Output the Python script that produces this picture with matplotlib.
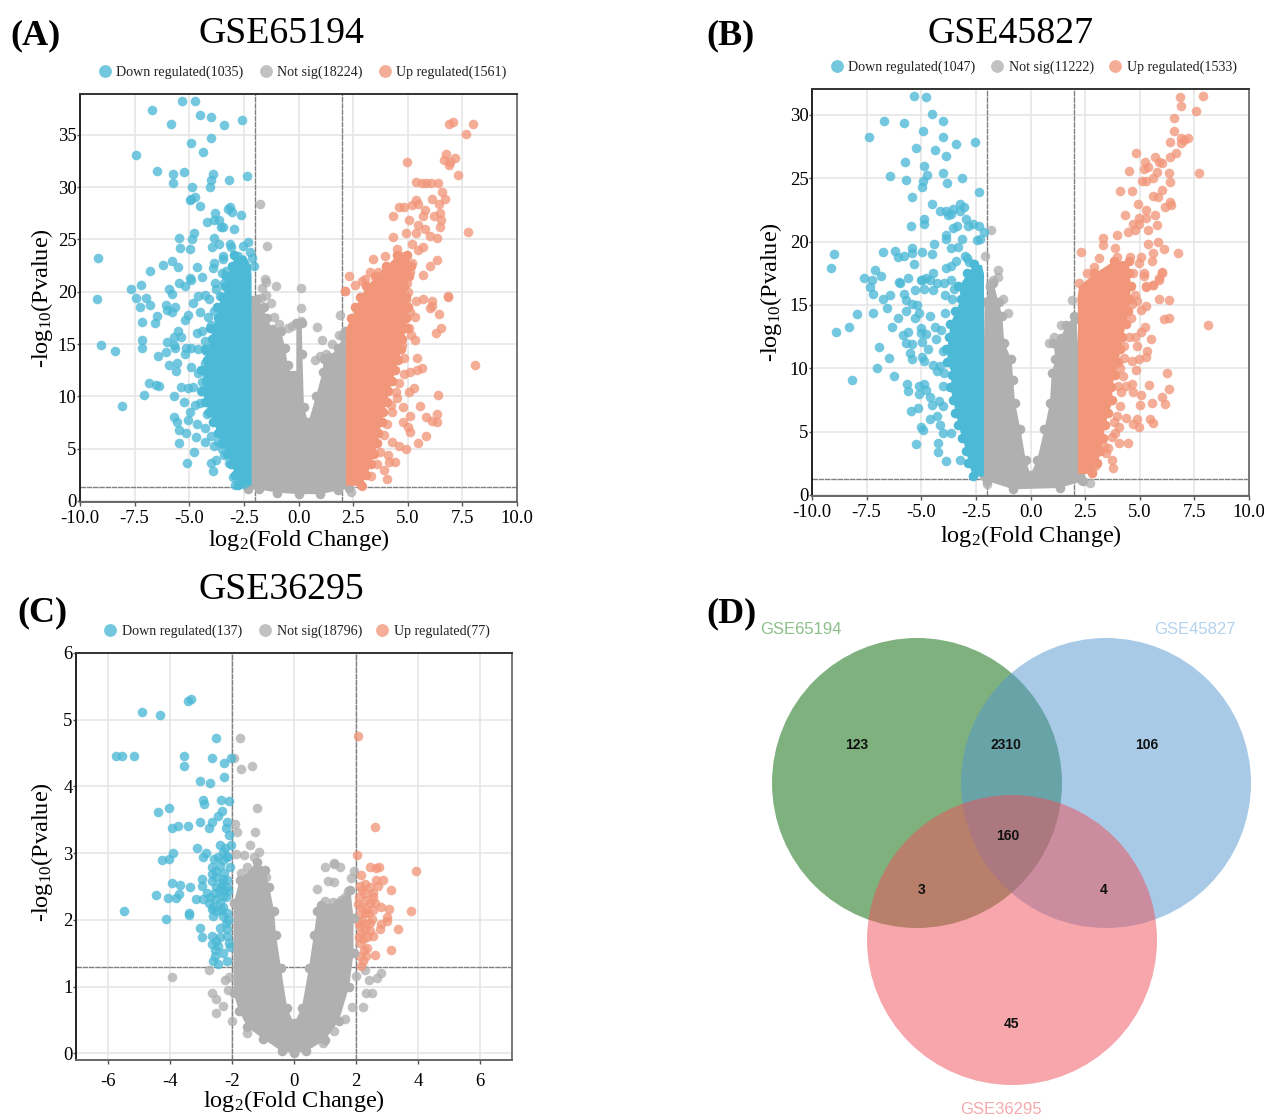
import numpy as np
import matplotlib
matplotlib.use("Agg")
import matplotlib.pyplot as plt
from matplotlib.patches import Circle

plt.rcParams['font.family'] = ['Liberation Serif', 'DejaVu Serif']
plt.rcParams['mathtext.default'] = 'regular'

BLUE = '#4cb9d6'
GREY = '#b0b0b0'
RED = '#f2967a'

# panel A, GSE65194
a_down = [(-6.72,37.4),(-5.32,38.2),(-4.75,38.2),(-4.52,36.9),(-4.01,36.7),(-5.82,36.0),(-3.41,35.9),(-2.58,36.4),
    (-3.99,34.7),(-4.91,34.2),(-4.39,33.4),(-7.43,33.1),(-6.47,31.5),(-5.74,31.3),(-5.25,31.4),(-3.90,31.3),
    (-5.75,30.4),(-3.99,30.7),(-3.19,30.7),(-2.36,31.1),(-4.88,30.0),(-4.06,30.0),(-4.98,28.8),(-4.74,29.1),
    (-4.9,28.9),(-4.53,28.2),(-3.23,27.9),(-3.12,28.1),(-3.03,27.6),(-2.63,27.3),(-3.82,27.5),(-4.2,26.7),
    (-3.87,26.9),(-3.63,26.9),(-3.55,26.2),(-3.47,26.2),(-2.93,26.0),(-4.79,25.6),(-5.45,25.1),(-4.87,25.0),
    (-5.42,24.2),(-4.98,24.1),(-3.87,25.1),(-3.63,24.6),(-3.95,24.3),(-3.12,24.6),(-3.07,24.3),(-2.3,24.8),
    (-2.55,24.4),(-2.2,23.8),(-2.12,23.2),(-2.03,22.5),(-9.18,23.2),(-3.44,23.4),(-3.47,23.1),(-2.76,23.4),
    (-6.2,22.6),(-5.77,22.9),(-5.53,22.4),(-4.63,22.4),(-3.87,22.7),(-3.91,22.3),(-6.8,22.0),(-7.67,20.3),
    (-7.23,20.6),(-4.98,21.3),(-4.42,21.4),(-5.45,20.8),(-5.21,20.5),(-4.9,21.1),(-5.93,20.3),(-5.8,19.8),
    (-9.21,19.3),(-3.82,20.8),(-3.79,20.3),(-3.39,20.8),(-7.43,19.4),(-6.99,19.4),(-7.27,18.5),(-6.8,18.7),
    (-6.07,18.7),(-6.0,18.3),(-5.77,18.1),(-5.66,18.5),(-6.48,17.7),(-7.15,17.1),(-6.59,17.0),(-5.06,17.8),
    (-5.21,17.3),(-4.82,18.9),(-4.58,19.6),(-4.26,19.7),(-4.5,18.1),(-4.1,19.3),(-9.05,14.9),(-8.38,14.3),
    (-8.1,9.07),(-7.15,15.4),(-7.16,14.6),(-6.45,13.9),(-6.05,14.2),(-6.0,15.2),(-5.69,15.7),(-5.53,16.2),
    (-5.37,15.7),(-5.69,14.9),(-5.66,14.6),(-4.66,16.1),(-4.42,16.2),(-4.26,15.3),(-5.13,14.6),(-5.21,14.0),
    (-4.9,14.6),(-4.58,14.5),(-5.93,13.0),(-5.58,13.2),(-5.61,12.4),(-4.9,12.8),(-4.58,12.2),(-4.18,11.9),
    (-4.26,13.2),(-6.83,11.3),(-6.51,11.1),(-6.4,11.0),(-7.07,10.1),(-5.69,10.0),(-5.4,10.9),(-5.06,10.8),
    (-4.82,10.9),(-5.26,9.5),(-4.98,8.5),(-4.74,9.2),(-5.69,8.0),(-5.56,7.5),(-5.06,7.7),(-4.66,7.4),
    (-5.45,6.8),(-5.13,6.5),(-4.71,6.1),(-5.45,5.5),(-4.77,4.7),(-5.1,3.65),(-4.26,5.6),(-3.87,5.3),
    (-3.99,3.6),(-3.76,3.9),(-3.91,2.9),(-3.39,4.4),(-3.0,2.3),(-2.92,1.5),(-2.49,1.6),(-4.2,8.3),(-4.3,7.0),
    (-4.0,6.2),(-3.7,5.6),(-3.5,5.0),(-3.2,3.6),(-4.45,10.5),(-4.5,9.4),(-4.4,11.4),(-4.25,14.3),(-4.0,16.8),
    (-4.15,17.6),(-3.85,18.2),(-3.6,19.6),(-3.5,18.4),(-3.3,22.0),(-3.5,21.8)]
a_up = [(6.91,36.0),(7.08,36.2),(7.99,36.0),(7.65,35.1),(4.96,32.4),(6.74,33.2),(7.15,32.8),(6.67,32.6),(6.94,32.4),
    (6.91,32.1),(7.29,31.2),(5.4,30.5),(5.64,30.4),(5.85,30.4),(6.07,30.4),(6.4,30.4),(6.56,29.5),(6.72,28.9),
    (6.09,28.9),(6.43,28.4),(5.4,28.8),(5.21,28.3),(5.48,28.4),(4.61,28.1),(4.85,28.1),(5.8,27.8),(5.69,27.2),
    (4.31,27.2),(5.06,26.9),(5.48,26.4),(6.2,27.2),(6.48,27.5),(6.51,26.9),(6.48,26.2),(7.75,25.7),(5.8,26.0),
    (4.93,25.6),(5.4,25.6),(4.34,25.2),(6.04,25.3),(6.35,25.1),(5.21,24.6),(4.5,24.1),(5.72,24.3),(5.48,24.0),
    (3.42,23.1),(3.98,23.4),(6.35,23.0),(6.04,22.5),(4.69,23.4),(2.3,21.5),(3.26,21.9),(3.66,21.9),(3.03,21.2),
    (5.72,21.6),(2.15,20.1),(6.83,19.6),(6.83,19.5),(2.12,20.1),(6.12,19.1),(5.69,19.3),(5.4,19.1),(6.12,18.6),
    (6.0,18.4),(6.45,17.9),(5.32,17.6),(5.09,18.1),(6.51,16.5),(6.28,16.1),(5.32,15.4),(5.06,16.5),(5.17,15.9),
    (5.44,13.7),(5.64,12.7),(5.44,12.5),(5.12,12.3),(4.85,12.1),(8.07,13.0),(5.29,10.8),(5.06,10.4),(4.45,10.4),
    (4.53,9.8),(6.39,10.1),(5.56,9.1),(4.8,9.0),(5.09,8.1),(4.22,9.2),(6.35,8.3),(5.85,8.0),(6.12,7.6),(6.32,7.5),
    (4.77,7.5),(5.0,7.1),(5.09,6.6),(4.06,7.4),(5.83,6.2),(5.45,5.5),(4.61,5.3),(4.9,5.0),(4.29,5.6),(3.74,4.7),
    (4.1,4.4),(4.42,3.7),(4.14,3.7),(3.9,3.0),(4.06,2.1),(4.95,20.8),(5.1,21.9),(5.2,22.7),(5.0,20.0),(4.9,19.2),
    (2.6,20.6),(2.9,21.0),(4.75,14.9),(4.85,13.7),(4.6,11.3),(4.3,8.5),(3.9,6.3),(3.6,3.5),(3.3,2.4),(2.9,1.4)]
a_notsig = [(-1.73,19.4),(-1.25,18.9),(-0.9,16.9),(-0.46,16.5),(-0.3,16.7),(0.13,18.4),(0.13,17.2),(0.86,16.6),(1.08,15.4),
    (1.92,17.8),(-1.01,20.5),(0.1,20.4),(-1.65,20.4),(-1.5,20.9),(-1.74,28.4),(-1.43,24.4),(-1.52,21.2),(0.75,13.5),
    (1.0,13.9),(1.25,14.0),(-1.5,19.7),(-1.1,17.6),(2.4,0.9),(1.85,15.9),(1.55,15.0)]
a_grey_x = [-2.3,-2.2,-2.2,-2.2,-2.15,-1.9,-1.6,-1.45,-1.2,-0.8,-0.6,-0.5,-0.3,-0.1,-0.1,0.15,0.18,0.25,0.45,0.8,1.1,
    1.15,1.4,1.8,2.05,2.15,2.25,2.25,2.3,1.8,1.0,0.0,-1.0,-1.8]
a_grey_y = [1.1,3,10,17,19.2,19.3,18.5,17.5,16.4,16.2,14.6,13,12,12,17,17,14,9,7.5,10,12.3,13.6,13.8,14.6,15.8,16.2,
    10,3,1.2,1.0,0.65,0.65,0.8,1.1]
a_blue_y = [1.5,2.5,3.5,4.5,5.5,6.5,7.5,8.5,9.5,10.5,11.5,12.5,13.5,14.5,15.5,16.5,17.5,18.5,19.5,20.5,21.5,22.5,23.5]
a_blue_left = [-2.75,-2.9,-3.1,-3.25,-3.5,-3.7,-3.9,-4.1,-4.3,-4.4,-4.25,-4.45,-4.2,-4.3,-3.95,-4.05,-3.7,-3.75,-3.5,
    -3.35,-3.3,-3.05,-2.95]
a_blue_right = [-2.17,-2.17,-2.17,-2.17,-2.17,-2.17,-2.17,-2.17,-2.17,-2.17,-2.17,-2.17,-2.17,-2.17,-2.17,-2.17,-2.17,
    -2.17,-2.17,-2.17,-2.17,-2.2,-2.45]
a_red_y = [1.5,2.5,3.5,4.5,5.5,6.5,7.5,8.5,9.5,10.5,11.5,12.5,13.5,14.5,15.5,16.5,17.5,18.5,19.5,20.5,21.5,22.5,23.5]
a_red_left = [2.15,2.15,2.15,2.15,2.15,2.15,2.15,2.15,2.15,2.15,2.15,2.15,2.15,2.15,2.15,2.15,2.4,2.6,2.8,3.1,3.5,4.0,4.5]
a_red_right = [2.85,3.1,3.3,3.45,3.6,3.65,3.8,3.85,4.05,4.1,4.3,4.4,4.55,4.7,4.75,4.95,4.9,5.0,4.9,4.85,5.05,5.15,4.95]

# panel B, GSE45827
b_down = [(-5.31,31.5),(-4.76,31.4),(-4.53,30.05),(-6.71,29.5),(-5.79,29.4),(-4.02,29.5),(-4.9,28.7),(-7.39,28.3),(-3.99,28.3),
    (-3.41,27.7),(-2.55,27.9),(-5.23,27.4),(-4.37,27.2),(-3.87,26.8),(-5.74,26.3),(-4.88,26.0),(-4.72,25.3),(-6.43,25.2),
    (-4.02,25.4),(-5.71,24.9),(-4.9,24.8),(-3.15,25.0),(-3.81,24.6),(-4.96,24.3),(-2.34,23.9),(-5.41,23.5),(-4.52,23.0),
    (-3.23,23.0),(-4.15,22.4),(-3.87,22.4),(-3.62,22.2),(-3.54,22.6),(-3.05,22.7),(-3.21,22.4),(-3.79,22.1),(-4.86,21.8),
    (-4.86,21.4),(-5.46,21.2),(-2.96,21.8),(-2.63,21.4),(-2.34,21.2),(-2.88,21.2),(-3.54,21.1),(-3.38,21.2),(-3.87,20.5),
    (-3.87,20.2),(-3.13,20.2),(-2.14,20.8),(-2.47,20.1),(-2.3,20.2),(-4.42,19.8),(-3.66,19.5),(-3.3,19.6),(-6.76,19.2),
    (-6.18,19.3),(-5.44,19.5),(-6.05,18.8),(-5.77,18.9),(-5.44,19.1),(-4.98,19.2),(-4.53,19.0),(-9.01,19.0),(-9.11,17.9),
    (-5.31,18.2),(-7.13,17.8),(-6.85,17.3),(-7.6,17.1),(-7.26,17.0),(-7.34,16.4),(-6.02,16.8),(-5.61,17.1),(-5.03,17.0),
    (-4.78,17.1),(-4.45,17.5),(-3.87,17.9),(-3.63,18.1),(-3.43,18.5),(-3.63,17.0),(-2.9,18.7),(-2.8,18.4),(-3.0,18.9),
    (-2.5,17.0),(-2.4,17.3),(-2.6,17.4),(-7.21,15.9),(-6.76,15.5),(-6.43,15.8),(-6.56,14.8),(-5.99,16.7),(-5.81,15.9),
    (-5.69,15.4),(-5.44,15.1),(-5.2,15.0),(-4.95,17),(-4.61,17),(-4.29,16.7),(-5.28,16.2),(-4.86,16.3),(-4.45,16.2),
    (-3.96,16.7),(-8.91,12.9),(-8.3,13.3),(-7.94,14.3),(-7.23,14.4),(-6.93,11.7),(-6.48,10.8),(-7.04,10.0),(-8.15,9.05),
    (-6.25,9.4),(-5.69,14.5),(-6.05,14.0),(-6.32,13.3),(-5.84,12.6),(-5.61,12.9),(-5.28,14),(-5.11,14.4),(-4.62,14.1),
    (-5.69,12.0),(-5.44,11.9),(-5.03,13.2),(-5.03,12.8),(-4.78,12.7),(-4.95,12.1),(-4.37,13.3),(-4.32,12.3),(-5.51,11.2),
    (-5.44,10.7),(-4.95,10.9),(-4.7,11.5),(-4.86,10.6),(-4.45,10.3),(-4.12,10.2),(-4.29,9.8),(-5.64,8.8),(-5.61,8.2),
    (-5.11,8.0),(-4.86,8.8),(-4.78,8.3),(-5.11,8.6),(-4.62,7.7),(-4.2,7.4),(-4.53,7.1),(-5.49,6.6),(-5.15,6.9),(-4.62,6.0),
    (-4.29,6.2),(-5.03,5.4),(-4.91,5.1),(-4.15,5.5),(-3.99,4.9),(-3.63,4.9),(-5.24,4.0),(-4.24,4.1),(-4.24,3.4),(-3.87,2.7),
    (-3.21,2.8),(-4.0,8.6),(-3.95,9.6),(-4.0,11.4),(-4.1,13.0),(-3.9,14.4),(-3.6,15.5),(-3.5,16.3),(-3.9,15.8),(-4.0,7.0)]
b_up = [(6.83,31.4),(7.9,31.5),(6.89,30.7),(7.56,30.3),(6.58,29.8),(6.55,28.7),(6.91,28.2),(7.19,28.2),(6.37,27.9),(6.91,27.8),
    (7.03,28),(4.83,27.0),(5.71,26.7),(6.65,27.0),(6.37,26.7),(5.26,26.3),(5.87,26.3),(6.0,26.2),(5.38,25.9),(5.21,25.7),
    (4.52,25.6),(5.79,25.5),(7.69,25.4),(5.62,25.0),(6.33,25.4),(6.37,24.7),(5.29,24.8),(5.1,24.8),(4.1,24.0),(4.63,24.0),
    (6.04,24.1),(5.59,23.6),(5.82,23.5),(6.37,23.1),(4.93,23.0),(6.45,22.9),(6.15,22.7),(5.29,22.5),(4.34,22.1),(4.96,21.9),
    (5.71,22.1),(5.29,21.9),(4.71,21.4),(4.96,21.4),(5.79,21.3),(5.38,20.9),(4.8,20.9),(3.97,20.5),(4.47,20.8),(3.34,20.3),
    (3.31,19.7),(3.89,19.5),(5.38,19.8),(5.84,20.0),(6.12,19.4),(5.62,19.1),(6.73,19.1),(2.29,19.2),(3.15,18.7),(3.97,18.8),
    (4.55,18.8),(5.04,18.8),(5.54,18.5),(6.04,17.6),(5.87,17.1),(5.59,16.6),(5.29,16.4),(2.24,16.7),(2.57,17.5),(2.9,18.0),
    (4.96,18.3),(5.21,17.3),(4.71,17.5),(5.21,17.5),(5.29,16.5),(5.62,16.6),(5.87,17),(6.04,17.5),(5.87,15.5),(6.33,15.4),
    (4.8,15.8),(4.88,15.3),(5.04,14.6),(5.29,14.9),(4.63,15.1),(6.12,13.9),(6.32,14.0),(8.13,13.4),(5.24,13.3),(5.04,12.9),
    (4.8,12.5),(5.51,12.3),(4.88,11.8),(5.34,11.4),(5.29,10.9),(4.96,10.7),(4.63,10.6),(4.3,10.8),(4.83,9.9),(6.25,9.6),
    (6.33,8.4),(5.42,8.7),(4.63,8.8),(4.38,8.6),(4.22,9.4),(4.14,8.1),(4.71,8.1),(5.04,7.9),(6.0,7.7),(6.15,7.2),(5.54,7.3),
    (5.03,7.1),(4.1,7.0),(3.97,6.2),(4.38,6.1),(4.88,6.0),(5.46,6.0),(5.59,5.7),(4.96,5.4),(4.71,5.6),(4.05,5.4),(3.89,4.9),
    (3.72,4.6),(4.05,4.1),(4.47,4.1),(3.56,3.7),(3.47,3.3),(3.72,2.8),(3.76,2.1),(4.6,14.0),(4.5,12.5),(4.3,11.8),(4.1,10.0),
    (4.0,8.6),(3.8,5.8),(3.35,3.9),(2.95,2.3)]
b_notsig = [(-1.81,20.9),(-2.06,18.9),(-1.48,17.8),(-1.73,17.0),(-1.5,17.2),(-1.25,15.5),(-1.05,14.4),(0.83,12.0),(1.08,12.5),
    (1.41,13.4),(1.9,15.4),(2.73,0.97),(2.3,1.2),(-1.85,16.6),(-2.0,0.9)]
b_grey_x = [-2.15,-2.15,-2.1,-1.85,-1.7,-1.45,-1.29,-1.2,-0.87,-0.79,-0.71,-0.46,-0.22,0.0,0.31,0.64,0.89,0.97,1.14,1.05,1.38,
    1.63,2.0,2.1,2.25,2.25,2.4,1.33,-0.8,-1.97]
b_grey_y = [1.5,10,15.2,16.4,16.7,15.2,14.1,12,10.7,9.1,7.3,5.2,2.8,1.6,2.8,5.2,7.3,9.6,10.7,12,12.4,13.4,14.1,13.9,10,1.5,1.1,
    0.55,0.45,1.1]
b_blue_y = [1.5,2.5,3.5,4.5,5.5,6.5,7.5,8.5,9.5,10.5,11.5,12.5,13.5,14.5,15.5,16.5,17.5,18.2]
b_blue_left = [-2.65,-2.85,-2.95,-3.15,-3.3,-3.45,-3.55,-3.7,-3.6,-3.8,-3.85,-3.75,-3.7,-3.45,-3.2,-3.3,-2.9,-2.6]
b_blue_right = [-2.15,-2.15,-2.15,-2.15,-2.15,-2.15,-2.15,-2.15,-2.15,-2.15,-2.15,-2.15,-2.15,-2.15,-2.15,-2.15,-2.15,-2.25]
b_red_y = [1.7,2.5,3.5,4.5,5.5,6.5,7.5,8.5,9.5,10.5,11.5,12.5,13.5,14.5,15.5,16.5,17.5,18.5]
b_red_left = [2.15,2.15,2.15,2.15,2.15,2.15,2.15,2.15,2.15,2.15,2.15,2.15,2.15,2.15,2.12,2.2,2.9,3.8]
b_red_right = [2.8,3.05,3.2,3.3,3.4,3.55,3.75,3.7,3.85,4.0,4.1,4.2,4.35,4.45,4.5,4.6,4.5,4.5]

# panel C, GSE36295
c_down = [(-3.42,5.28),(-3.33,5.31),(-4.91,5.12),(-4.33,5.07),(-2.53,4.72),(-5.75,4.46),(-5.56,4.46),(-5.15,4.46),(-3.54,4.46),
    (-3.54,4.31),(-2.64,4.43),(-2.27,4.35),(-2.02,4.42),(-2.27,4.14),(-3.03,4.08),(-2.71,4.05),(-2.92,3.8),(-2.9,3.74),(-2.36,3.8),
    (-2.11,3.78),(-4.04,3.68),(-4.39,3.61),(-2.33,3.63),(-2.46,3.55),(-3.03,3.47),(-2.66,3.47),(-2.17,3.46),(-3.92,3.38),(-3.75,3.41),
    (-3.41,3.4),(-2.75,3.38),(-2.19,3.37),(-2.11,3.27),(-3.12,3.07),(-2.39,3.12),(-2.03,3.12),(-2.23,3.08),(-2.28,3.01),(-2.17,2.96),
    (-3.91,3.0),(-2.84,3.0),(-2.93,2.95),(-4.27,2.9),(-4.02,2.91),(-2.57,2.91),(-2.66,2.79),(-2.5,2.74),(-2.39,2.81),(-2.06,2.79),
    (-2.66,2.69),(-2.5,2.64),(-3.94,2.56),(-3.69,2.53),(-2.96,2.61),(-2.66,2.59),(-2.96,2.51),(-3.34,2.5),(-2.33,2.56),(-2.28,2.61),
    (-2.5,2.49),(-2.17,2.49),(-2.82,2.41),(-2.39,2.44),(-4.45,2.38),(-4.05,2.33),(-3.8,2.33),(-3.72,2.39),(-3.15,2.31),(-2.93,2.31),
    (-2.71,2.34),(-2.5,2.31),(-2.28,2.36),(-2.12,2.44),(-5.48,2.14),(-3.39,2.11),(-3.37,2.08),(-4.14,2.02),(-2.66,2.16),(-2.5,2.14),
    (-2.28,2.19),(-2.17,2.11),(-2.61,2.06),(-2.28,2.06),(-3.04,1.88),(-2.96,1.74),(-2.39,1.88),(-2.17,1.86),(-2.66,1.76),(-2.5,1.69),
    (-2.17,1.76),(-2.66,1.64),(-2.44,1.61),(-2.06,1.59),(-2.55,1.46),(-2.61,1.39),(-2.44,1.34),(-2.17,1.39),(-2.15,2.6),(-2.25,2.7),
    (-2.35,2.5),(-2.2,2.35),(-2.4,2.25),(-2.55,2.4),(-2.3,2.9),(-2.15,2.95),(-2.45,2.95),(-2.25,2.45),(-2.35,2.15),(-2.2,1.95),
    (-2.1,1.65),(-2.12,2.0),(-2.4,1.75),(-2.55,1.55),(-2.3,1.5),(-2.6,2.2),(-2.75,2.25)]
c_up = [(2.06,4.75),(2.61,3.39),(2.04,2.97),(2.46,2.8),(2.66,2.78),(2.75,2.8),(2.15,2.67),(3.95,2.73),(2.64,2.6),(2.88,2.6),(2.12,2.51),
    (2.28,2.54),(2.44,2.49),(2.71,2.51),(3.13,2.45),(2.55,2.41),(2.33,2.3),(2.61,2.26),(2.82,2.2),(3.07,2.17),(3.78,2.14),(2.06,2.24),
    (2.33,2.16),(2.12,2.09),(2.5,2.01),(2.99,2.05),(2.82,1.94),(2.99,1.99),(2.77,1.86),(3.34,1.87),(2.12,1.91),(2.33,1.94),(2.17,1.81),
    (2.44,1.84),(2.55,1.76),(2.23,1.71),(2.12,1.66),(2.37,1.58),(3.13,1.55),(2.12,1.46),(2.33,1.46),(2.61,1.47),(2.23,1.39),(2.17,1.31),
    (2.2,2.0),(2.3,1.85),(2.4,2.1),(2.55,2.15),(2.1,2.35),(2.2,2.45),(2.15,2.2),(2.3,2.1),(2.1,1.95),(2.1,1.75),(2.25,1.55),(2.35,1.75),
    (2.45,1.95),(2.45,2.25),(2.55,2.35),(2.3,2.4)]
c_notsig = [(-1.73,4.72),(-1.92,4.42),(-1.7,4.26),(-1.36,4.31),(-1.19,3.67),(-1.9,3.43),(-1.85,3.32),(-1.27,3.32),(-1.41,3.12),(-1.87,2.98),
    (-1.61,2.97),(-1.14,3.01),(-1.3,2.94),(1.3,2.86),(1.0,2.79),(1.3,2.84),(1.47,2.8),(1.09,2.59),(1.28,2.57),(0.73,2.46),(1.95,2.74),
    (1.85,2.63),(1.74,2.44),(1.63,2.34),(-3.94,1.14),(-2.75,1.25),(-2.23,1.1),(-2.64,0.91),(-2.5,0.81),(-2.3,0.71),(-2.53,0.61),(-2.01,0.48),
    (-1.52,0.3),(2.28,1.25),(2.82,1.21),(2.69,1.13),(2.41,1.1),(2.33,0.91),(2.5,0.91),(2.23,0.7),(1.88,0.69),(2.01,1.16),(1.3,0.33),(1.63,0.51),
    (0.92,0.16),(-1.5,2.8),(-1.7,2.7),(-1.1,2.75),(-0.9,2.65),(1.0,2.28),(1.25,2.27),(1.5,2.3),(-2.12,0.95),(-2.1,1.15)]
c_grey_x = [-1.75,-1.95,-1.95,-1.78,-1.5,-1.0,-0.4,0.0,0.4,1.0,1.45,1.78,1.92,1.92,1.82,1.41,0.87,0.75,0.64,0.48,0.25,0.0,-0.22,-0.42,
    -0.58,-0.64,-0.8,-0.92,-1.19]
c_grey_y = [2.6,2.25,0.9,0.64,0.39,0.22,0.03,0.0,0.03,0.2,0.49,1.0,1.5,2.03,2.45,2.25,2.23,2.13,1.78,1.28,0.68,0.45,0.68,1.28,1.78,2.13,
    2.5,2.75,2.87]

# panel D
venn_names = ['GSE65194', 'GSE45827', 'GSE36295']
venn_counts = [123, 2310, 106, 160, 3, 4, 45]


def px_axes(fig, left, right, top, bottom):
    return fig.add_axes([left/1264, 1-bottom/1116, (right-left)/1264, (bottom-top)/1116])


def volcano(ax, xlim, ylim, xticks, xlabels, yticks, vx, hy, down, notsig, up):
    ax.set_xlim(xlim)
    ax.set_ylim(ylim)
    ax.set_xticks(xticks)
    ax.set_xticklabels(xlabels)
    ax.set_yticks(yticks)
    ax.grid(True, color='#e6e6e6', lw=1.2)
    ax.set_axisbelow(True)
    # threshold lines stay under the points, as in the original
    for v in vx:
        ax.axvline(v, color='#808080', lw=1.0, ls=(0, (4, 0.5)), zorder=2)
    ax.axhline(hy, color='#808080', lw=1.0, ls=(0, (4, 0.5)), zorder=2)
    for pts, col in ((notsig, GREY), (down, BLUE), (up, RED)):
        x, y = np.array(pts).T
        ax.scatter(x, y, s=48, color=col, alpha=0.78, lw=0, zorder=3)
    ax.tick_params(labelsize=13.5, length=3, width=1, pad=3, color='#555555')
    ax.tick_params(axis='y', length=2, pad=0.5)
    ax.spines['left'].set_color('#222222')
    ax.spines['top'].set_color('#333333')
    ax.spines['right'].set_color('#777777')
    ax.spines['bottom'].set_color('#666666')
    for s in ax.spines.values():
        s.set_linewidth(1.4)


def mass_down(ax, ys, left, right):
    # solid overplotted mass, left rim drawn as points so the edge stays lumpy
    ax.fill_betweenx(ys, left, right, color=BLUE, lw=0, zorder=3)
    ax.scatter(left, ys, s=48, color=BLUE, lw=0, zorder=3)


def mass_up(ax, ys, left, right):
    ax.fill_betweenx(ys, left, right, color=RED, lw=0, zorder=3)
    ax.scatter(right, ys, s=48, color=RED, lw=0, zorder=3)
    lf = np.array(left)
    ax.scatter(lf[lf > 2.2], np.array(ys)[lf > 2.2], s=48, color=RED, lw=0, zorder=3)


def labels(ax, xlab_frac, ylab_frac, ylab_yfrac=0.5):
    ax.set_xlabel('log$_{2}$(Fold Change)', fontsize=17.5, va='center')
    ax.set_ylabel('-log$_{10}$(Pvalue)', fontsize=17.5, va='center')
    ax.xaxis.set_label_coords(0.5, xlab_frac)
    ax.yaxis.set_label_coords(ylab_frac, ylab_yfrac)


fig = plt.figure(figsize=(12.64, 11.16), dpi=100)

x_ticks = [-10, -7.5, -5, -2.5, 0, 2.5, 5, 7.5, 10]
x_labels = ['-10.0', '-7.5', '-5.0', '-2.5', '0.0', '2.5', '5.0', '7.5', '10.0']

ax_a = px_axes(fig, 80, 517, 94, 502)
ax_a.fill(a_grey_x, a_grey_y, color=GREY, lw=0, zorder=3)
ax_a.scatter(a_grey_x, a_grey_y, s=48, color=GREY, lw=0, zorder=3)
volcano(ax_a, (-10, 10), (-0.1, 38.9), x_ticks, x_labels, range(0, 36, 5), (-2, 2), 1.3, a_down, a_notsig, a_up)
mass_down(ax_a, a_blue_y, a_blue_left, a_blue_right)
mass_up(ax_a, a_red_y, a_red_left, a_red_right)
labels(ax_a, -0.094, -0.087)

ax_b = px_axes(fig, 812, 1249, 89, 496)
ax_b.fill(b_grey_x, b_grey_y, color=GREY, lw=0, zorder=3)
ax_b.scatter(b_grey_x, b_grey_y, s=48, color=GREY, lw=0, zorder=3)
volcano(ax_b, (-10, 10), (-0.08, 32.05), x_ticks, x_labels, range(0, 31, 5), (-2, 2), 1.3, b_down, b_notsig, b_up)
mass_down(ax_b, b_blue_y, b_blue_left, b_blue_right)
mass_up(ax_b, b_red_y, b_red_left, b_red_right)
labels(ax_b, -0.098, -0.094)

ax_c = px_axes(fig, 76, 512, 653, 1060)
ax_c.fill(c_grey_x, c_grey_y, color=GREY, lw=0, zorder=5)
ax_c.scatter(c_grey_x, c_grey_y, s=48, color=GREY, lw=0, zorder=5)
volcano(ax_c, (-7.03, 7.03), (-0.1, 6.0), range(-6, 7, 2), ['-6', '-4', '-2', '0', '2', '4', '6'], range(0, 7), (-2, 2), 1.3,
    c_down, c_notsig, c_up)
ax_c.tick_params(axis='x', pad=6)
labels(ax_c, -0.1, -0.078, 0.51)

# overlay in pixels for the headings, legends and the venn
ov = fig.add_axes([0, 0, 1, 1], zorder=10)
ov.set_xlim(0, 1264)
ov.set_ylim(1116, 0)
ov.axis('off')

titles = [('GSE65194', 281, 34), ('GSE45827', 1011, 34), ('GSE36295', 281, 590)]
for t, x, y in titles:
    ov.text(x, y, t, fontsize=27.3, ha='center', va='center')
for t, x, y in [('(A)', 10, 36), ('(B)', 706, 36), ('(C)', 17, 613), ('(D)', 706, 614)]:
    ov.text(x, y, t, fontsize=26, fontweight='bold', ha='left', va='center')

legends = [(71, [(105, 116, 'Down regulated(1035)'), (266, 277, 'Not sig(18224)'), (385, 396, 'Up regulated(1561)')]),
    (66, [(837, 848, 'Down regulated(1047)'), (997, 1009, 'Not sig(11222)'), (1115, 1127, 'Up regulated(1533)')]),
    (630, [(110, 122, 'Down regulated(137)'), (265, 277, 'Not sig(18796)'), (382, 394, 'Up regulated(77)')])]
for y, items in legends:
    for (mx, tx, t), col in zip(items, (BLUE, GREY, RED)):
        ov.scatter([mx], [y], s=85, color=col, alpha=0.78, lw=0)
        ov.text(tx, y + 1, t, fontsize=10.1, ha='left', va='center', color='#222222')

ov.add_patch(Circle((917, 783), 145, color='#016500', alpha=0.5, lw=0))
ov.add_patch(Circle((1106, 783), 145, color='#5397d1', alpha=0.5, lw=0))
ov.add_patch(Circle((1012, 940), 145, color='#f14f59', alpha=0.5, lw=0))
venn_pos = [(857, 745), (1006, 745), (1147, 745), (1008, 836), (922, 890), (1104, 890), (1011, 1024)]
for n, (x, y) in zip(venn_counts, venn_pos):
    ov.text(x, y, str(n), fontsize=10, fontweight='bold', family='Liberation Sans', ha='center', va='center', color='#111111')
for name, (x, y), col in zip(venn_names, [(801, 630), (1195, 630), (1001, 1109)], ['#8cbf8a', '#b4d2ec', '#f6a9ae']):
    ov.text(x, y, name, fontsize=12, family='Liberation Sans', ha='center', va='center', color=col)

plt.savefig('out.png', dpi=100)
